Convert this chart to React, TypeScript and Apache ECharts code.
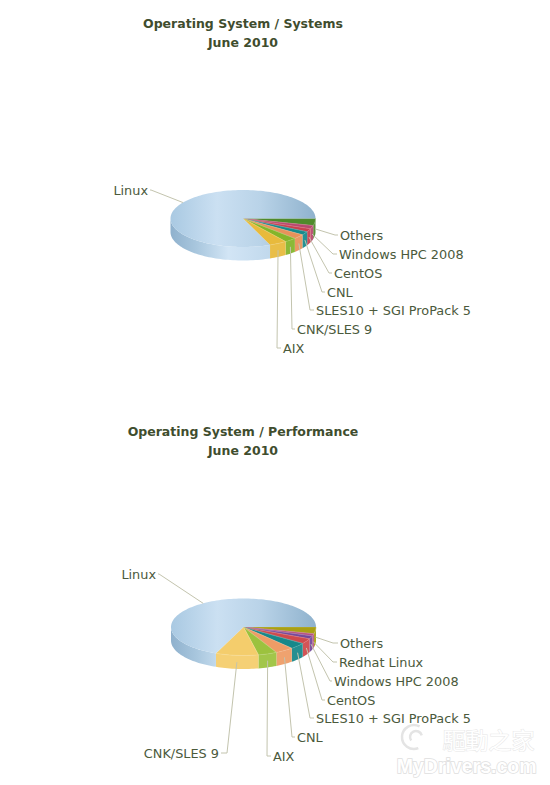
import React, { useEffect, useRef } from "react";
import * as echarts from "echarts";

// ---- data (share of the pie, clockwise from 3 o'clock) ----
const systemsCategories = ["Others", "Windows HPC 2008", "CentOS", "CNL", "SLES10 + SGI ProPack 5", "CNK/SLES 9", "AIX", "Linux"];
const systemsValues = [4.0, 1.9, 1.8, 2.0, 2.6, 2.7, 3.9, 81.0];
const performanceCategories = ["Others", "Redhat Linux", "Windows HPC 2008", "CentOS", "SLES10 + SGI ProPack 5", "CNL", "AIX", "CNK/SLES 9", "Linux"];
const performanceValues = [3.8, 1.3, 1.7, 3.0, 3.6, 4.1, 4.2, 9.5, 68.8];

// ---- styling and layout ----
const systemsColors = ["#4f8a2b", "#b8486f", "#c8404f", "#168a8c", "#e8925a", "#84b52a", "#e8ba3c", "linux"];
const performanceColors = ["#a9a015", "#b8507f", "#74489a", "#cf4a4c", "#17888a", "#ee9c66", "#9cc23e", "#f4cd6c", "linux"];

// per label: elbow x, y, text x, text align
const systemsLabels: [number, number, number, string][] = [
  [335, 235, 340, "left"], [333, 254, 339, "left"], [329, 273, 334, "left"], [322, 292, 327, "left"],
  [310, 310, 316, "left"], [292, 329, 297, "left"], [277, 348, 283, "left"], [151, 190, 148, "right"],
];
const performanceLabels: [number, number, number, string][] = [
  [333, 643, 340, "left"], [333, 662, 339, "left"], [330, 681, 334, "left"], [322, 700, 327, "left"],
  [310, 718, 316, "left"], [292, 737, 297, "left"], [267, 756, 273, "left"], [227, 753, 219, "right"], [159, 574, 156, "right"],
];

const FONT = '"DejaVu Sans", Verdana, sans-serif';
const TEXT = "#4b5a3c";
const LEADER = "#c3c4ae";
const RX = 72.5, RY = 28.5, DEPTH = 13.5;

function lighten(hex: string, amount: number) {
  const n = parseInt(hex.slice(1), 16);
  const ch = (v: number) => Math.round(v + (255 - v) * amount);
  return `rgb(${ch((n >> 16) & 255)},${ch((n >> 8) & 255)},${ch(n & 255)})`;
}

function pieSeries(
  name: string,
  categories: string[],
  values: number[],
  colors: string[],
  labels: [number, number, number, string][],
  cx: number,
  cy: number,
) {
  const total = values.reduce((a, b) => a + b, 0);
  const starts: number[] = [];
  values.reduce((acc, v) => {
    starts.push(acc);
    return acc + v;
  }, 0);
  const pt = (deg: number, dz = 0): number[] => {
    const r = (deg * Math.PI) / 180;
    return [cx + RX * Math.cos(r), cy + RY * Math.sin(r) + dz];
  };
  const arc = (a: number, b: number, dz = 0) => {
    const out: number[][] = [];
    const n = Math.max(2, Math.ceil((b - a) / 2));
    for (let i = 0; i <= n; i++) out.push(pt(a + ((b - a) * i) / n, dz));
    return out;
  };
  const linuxTop = new echarts.graphic.LinearGradient(cx - RX, 0, cx + RX, 0, [
    { offset: 0, color: "#a9c9e2" },
    { offset: 0.32, color: "#cbe0f2" },
    { offset: 0.62, color: "#b9d3e8" },
    { offset: 1, color: "#8fb2cd" },
  ], true);
  const linuxSide = new echarts.graphic.LinearGradient(cx - RX, 0, cx + RX, 0, [
    { offset: 0, color: "#8fb1cd" },
    { offset: 0.18, color: "#a9c7de" },
    { offset: 0.4, color: "#d2e5f5" },
    { offset: 0.7, color: "#c0d8ec" },
    { offset: 1, color: "#a9c9e2" },
  ], true);

  return {
    type: "custom",
    name,
    coordinateSystem: "none",
    silent: true,
    data: values.map((v, i) => ({ name: categories[i], value: v })),
    renderItem: (params: any) => {
      const i = params.dataIndex;
      const a = (starts[i] / total) * 360;
      const b = ((starts[i] + values[i]) / total) * 360;
      const mid = (a + b) / 2;
      const isLinux = colors[i] === "linux";
      const children: any[] = [];
      const sa = Math.max(a, 0), sb = Math.min(b, 180);
      if (sb > sa) {
        children.push({
          type: "polygon",
          shape: { points: [...arc(sa, sb), ...arc(sa, sb, DEPTH).reverse()] },
          style: { fill: isLinux ? linuxSide : lighten(colors[i], 0.06) },
        });
      }
      children.push({
        type: "polygon",
        shape: { points: [[cx, cy], ...arc(a, b)] },
        style: isLinux
          ? { fill: linuxTop }
          : { fill: colors[i], stroke: lighten(colors[i], 0.3), lineWidth: 0.5 },
      });
      const anchor = mid < 180 ? pt(mid, DEPTH * 0.5) : pt(mid);
      const [ex, ey, tx, align] = labels[i];
      const endX = align === "left" ? tx - 2 : tx + 2;
      children.push({
        type: "polyline",
        shape: { points: [anchor, [ex, ey], [endX, ey]] },
        style: { stroke: LEADER, lineWidth: 1, fill: "none" },
      });
      children.push({
        type: "text",
        style: {
          text: categories[i],
          x: tx,
          y: ey,
          fill: TEXT,
          font: `12.85px ${FONT}`,
          align,
          verticalAlign: "middle",
          textAlign: align,
          textVerticalAlign: "middle",
        },
      });
      return { type: "group", children };
    },
  };
}

export default function App() {
  const ref = useRef<HTMLDivElement>(null);
  useEffect(() => {
    const chart = echarts.init(ref.current!, null, { renderer: "svg" });
    const titleStyle = { fontFamily: FONT, fontSize: 12.5, fontWeight: "bold" as const, color: "#3f4d2e", lineHeight: 19, align: "center" as const };
    const swirl = { stroke: "#e4e4e4", lineWidth: 2.5, fill: "none" };
    chart.setOption({
      animation: false,
      backgroundColor: "#ffffff",
      title: [
        { text: "Operating System / Systems\nJune 2010", left: 243, top: 14, textAlign: "center", padding: 0, textStyle: titleStyle },
        { text: "Operating System / Performance\nJune 2010", left: 243, top: 422, textAlign: "center", padding: 0, textStyle: titleStyle },
      ],
      series: [
        pieSeries("Systems", systemsCategories, systemsValues, systemsColors, systemsLabels, 243, 218.5),
        pieSeries("Performance", performanceCategories, performanceValues, performanceColors, performanceLabels, 243.5, 627),
      ],
      graphic: [
        { type: "arc", silent: true, shape: { cx: 414, cy: 737, r: 12, startAngle: 1.2, endAngle: 5.2 }, style: swirl },
        { type: "arc", silent: true, shape: { cx: 416, cy: 737, r: 6, startAngle: 2.5, endAngle: 6.0 }, style: swirl },
        {
          type: "text", silent: true, left: 442, top: 727,
          style: { text: "驅動之家", fill: "#ffffff", stroke: "#e6e6e6", lineWidth: 1, font: '23px "Noto Sans CJK TC"', lineHeight: 24 },
        },
        {
          type: "text", silent: true, left: 396, top: 755,
          style: { text: "MyDrivers.com", fill: "#ffffff", stroke: "#dedede", lineWidth: 1.5, font: 'bold 19.5px "Liberation Sans"', lineHeight: 20 },
        },
      ],
    });
    return () => chart.dispose();
  }, []);
  return <div ref={ref} style={{ position: "fixed", left: 0, top: 0, width: 550, height: 785 }} />;
}
